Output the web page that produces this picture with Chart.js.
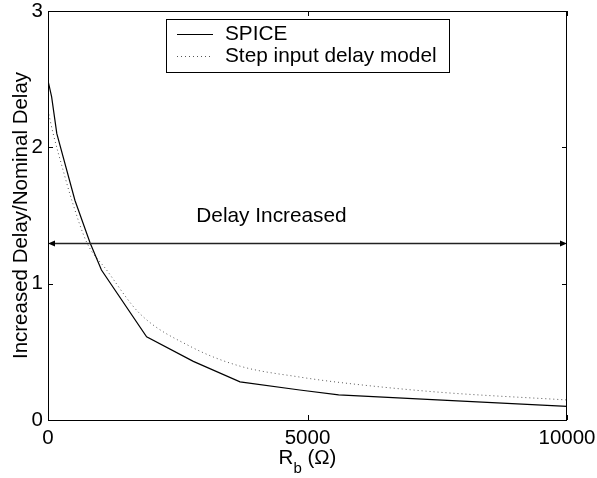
<!DOCTYPE html>
<html lang="en">
<head>
<meta charset="UTF-8">
<title>Increased Delay vs Rb</title>
<style>
body { margin: 0; background: #fff; }
#wrap { width: 597px; height: 478px; position: relative; }
</style>
</head>
<body>
<div id="wrap"><canvas id="delayChart"></canvas></div>
<script src="https://cdn.jsdelivr.net/npm/chart.js"></script>
<script>
// SPICE results (Rb in ohms, delay ratio)
const spiceR     = [0, 70, 170, 520, 810, 1030, 1900, 2800, 3700, 4850, 5600, 7500, 10000];
const spiceDelay = [2.49, 2.37, 2.10, 1.61, 1.30, 1.10, 0.61, 0.43, 0.28, 0.22, 0.185, 0.148, 0.10];

// step input delay model
const modelR     = [0, 100, 300, 460, 750, 1130, 1770, 2740, 3700, 4850, 5630, 7500, 10000];
const modelDelay = [2.27, 2.10, 1.82, 1.61, 1.30, 1.10, 0.78, 0.54, 0.395, 0.315, 0.275, 0.205, 0.147];

const seriesNames = ['SPICE', 'Step input delay model'];
const xTicks = [0, 5000, 10000];
const yTicks = [0, 1, 2, 3];

// double arrow annotation
const arrowLevel = 1.3;
const arrowFrom = 0;
const arrowTo = 10000;
const arrowText = 'Delay Increased';
const arrowTextAt = [4306, 1.45];

const FONT = '"Liberation Sans", Arial, Helvetica, sans-serif';

function toPoints(xs, ys) {
    return xs.map((x, i) => ({ x: x, y: ys[i] }));
}

const matlabLook = {
    id: 'matlabLook',
    afterDraw(chart) {
        const ctx = chart.ctx;
        const a = chart.chartArea;
        const xs = chart.scales.x, ys = chart.scales.y;
        ctx.save();

        // box + inward ticks
        ctx.strokeStyle = '#000';
        ctx.lineWidth = 1;
        ctx.strokeRect(a.left + 0.5, a.top + 0.5, a.right - a.left - 1, a.bottom - a.top);
        ctx.beginPath();
        xTicks.forEach(v => {
            const px = Math.round(xs.getPixelForValue(v)) + 0.5;
            ctx.moveTo(px, a.bottom); ctx.lineTo(px, a.bottom - 5);
            ctx.moveTo(px, a.top); ctx.lineTo(px, a.top + 5);
        });
        yTicks.forEach(v => {
            const py = Math.round(ys.getPixelForValue(v)) + 0.5;
            ctx.moveTo(a.left, py); ctx.lineTo(a.left + 5, py);
            ctx.moveTo(a.right, py); ctx.lineTo(a.right - 5, py);
        });
        ctx.stroke();

        // arrow
        const ay = Math.round(ys.getPixelForValue(arrowLevel)) + 0.5;
        const ax1 = xs.getPixelForValue(arrowFrom);
        const ax2 = xs.getPixelForValue(arrowTo);
        ctx.strokeStyle = '#222';
        ctx.lineWidth = 1.5;
        ctx.beginPath();
        ctx.moveTo(ax1 + 4, ay); ctx.lineTo(ax2 - 4, ay);
        ctx.stroke();
        ctx.fillStyle = '#000';
        ctx.beginPath();
        ctx.moveTo(ax1, ay); ctx.lineTo(ax1 + 7, ay - 3); ctx.lineTo(ax1 + 7, ay + 3); ctx.closePath();
        ctx.moveTo(ax2, ay); ctx.lineTo(ax2 - 7, ay - 3); ctx.lineTo(ax2 - 7, ay + 3); ctx.closePath();
        ctx.fill();

        ctx.font = '20.8px ' + FONT;
        ctx.textAlign = 'center';
        ctx.textBaseline = 'alphabetic';
        ctx.fillText(arrowText, xs.getPixelForValue(arrowTextAt[0]), ys.getPixelForValue(arrowTextAt[1]));

        // legend
        const lx = 166, ly = 19, lw = 283, lh = 53;
        ctx.fillStyle = '#fff';
        ctx.fillRect(lx, ly, lw, lh);
        ctx.strokeStyle = '#000';
        ctx.lineWidth = 1;
        ctx.strokeRect(lx + 0.5, ly + 0.5, lw, lh);
        const rows = [34, 56];
        chart.data.datasets.forEach((ds, i) => {
            ctx.strokeStyle = ds.borderColor;
            ctx.lineWidth = ds.borderWidth;
            ctx.setLineDash(ds.borderDash || []);
            ctx.beginPath();
            ctx.moveTo(177, rows[i] + 0.5); ctx.lineTo(213, rows[i] + 0.5);
            ctx.stroke();
            ctx.setLineDash([]);
            ctx.fillStyle = '#000';
            ctx.textAlign = 'left';
            ctx.textBaseline = 'middle';
            ctx.fillText(ds.label, 225, rows[i]);
        });

        // x axis title with subscript
        const cx = xs.getPixelForValue(5000);
        const base = 464;
        const mainPart = 'R', sub = 'b', rest = ' (\u03A9)';
        ctx.textBaseline = 'alphabetic';
        ctx.textAlign = 'left';
        ctx.font = '20.5px ' + FONT;
        const wR = ctx.measureText(mainPart).width;
        const wRest = ctx.measureText(rest).width;
        ctx.font = '15px ' + FONT;
        const wSub = ctx.measureText(sub).width;
        let x0 = cx - (wR + wSub + wRest) / 2;
        ctx.font = '20.5px ' + FONT;
        ctx.fillText(mainPart, x0, base);
        ctx.font = '15px ' + FONT;
        ctx.fillText(sub, x0 + wR, base + 9);
        ctx.font = '20.5px ' + FONT;
        ctx.fillText(rest, x0 + wR + wSub, base);

        ctx.restore();
    }
};

new Chart(document.getElementById('delayChart'), {
    type: 'scatter',
    data: {
        datasets: [{
            label: seriesNames[0],
            data: toPoints(spiceR, spiceDelay),
            showLine: true,
            borderColor: '#000',
            borderWidth: 1.2,
            pointRadius: 0,
            tension: 0
        }, {
            label: seriesNames[1],
            data: toPoints(modelR, modelDelay),
            showLine: true,
            borderColor: '#555',
            borderWidth: 1,
            borderDash: [1, 3],
            pointRadius: 0,
            cubicInterpolationMode: 'monotone'
        }]
    },
    options: {
        responsive: true,
        maintainAspectRatio: false,
        animation: false,
        layout: { padding: { top: 11, right: 30, left: 0, bottom: 0 } },
        plugins: { legend: { display: false }, tooltip: { enabled: false } },
        scales: {
            x: {
                type: 'linear',
                min: 0, max: 10000,
                afterBuildTicks: s => { s.ticks = xTicks.map(v => ({ value: v })); },
                afterFit: s => { s.height = 58; s.paddingLeft = 0; s.paddingRight = 0; },
                grid: { display: false, drawTicks: false },
                border: { display: false },
                ticks: { color: '#000', font: { family: FONT, size: 20.5 }, padding: 6, maxRotation: 0, callback: v => String(v) }
            },
            y: {
                type: 'linear',
                min: 0, max: 3,
                afterBuildTicks: s => { s.ticks = yTicks.map(v => ({ value: v })); },
                afterFit: s => { s.width = 48; s.paddingTop = 0; s.paddingBottom = 0; },
                grid: { display: false, drawTicks: false },
                border: { display: false },
                ticks: { color: '#000', font: { family: FONT, size: 20.5 }, padding: 5 },
                title: {
                    display: true,
                    text: 'Increased Delay/Nominal Delay',
                    color: '#000',
                    font: { family: FONT, size: 20.5 },
                    padding: { top: 9, bottom: 0 }
                }
            }
        }
    },
    plugins: [matlabLook]
});
</script>
</body>
</html>
